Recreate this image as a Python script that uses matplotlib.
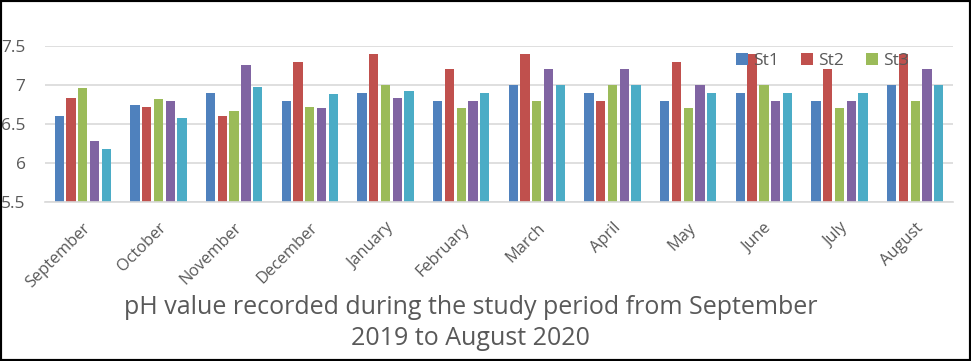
import numpy as np
import matplotlib
matplotlib.use('Agg')
import matplotlib.pyplot as plt
from matplotlib.patches import Rectangle

plt.rcParams['font.family'] = ['Open Sans', 'DejaVu Sans']

# data
months = ['September', 'October', 'November', 'December', 'January', 'February',
          'March', 'April', 'May', 'June', 'July', 'August']
st1 = [6.60, 6.74, 6.90, 6.80, 6.90, 6.80, 7.00, 6.90, 6.80, 6.90, 6.80, 7.00]
st2 = [6.83, 6.72, 6.60, 7.30, 7.40, 7.20, 7.40, 6.80, 7.30, 7.40, 7.20, 7.40]
st3 = [6.96, 6.82, 6.67, 6.72, 7.00, 6.70, 6.80, 7.00, 6.70, 7.00, 6.70, 6.80]
st4 = [6.28, 6.79, 7.26, 6.70, 6.83, 6.80, 7.20, 7.20, 7.00, 6.80, 6.80, 7.20]
st5 = [6.18, 6.58, 6.97, 6.88, 6.92, 6.90, 7.00, 7.00, 6.90, 6.90, 6.90, 7.00]
series = [('St1', st1), ('St2', st2), ('St3', st3), ('St4', st4), ('St5', st5)]
colors = ['#4F81BD', '#C0504D', '#9BBB59', '#8064A2', '#4BACC6']
yticks = [5.5, 6, 6.5, 7, 7.5]
yticklabels = ['5.5', '6', '6.5', '7', '7.5']

text_col = '#595959'

fig = plt.figure(figsize=(9.71, 3.61), dpi=100)
ax = fig.add_axes([0.0463, 0.4404, 0.9352, 0.4322])

x = np.arange(len(months))
step = 0.155
width = 0.123
bars = []
for i, (name, vals) in enumerate(series):
    b = ax.bar(x + (i - 2) * step, np.array(vals) - 5.5, width, bottom=5.5,
               color=colors[i], label=name, zorder=2)
    bars.append(b)

ax.set_xlim(-0.5, len(months) - 0.5)
ax.set_ylim(5.5, 7.5)
ax.set_yticks(yticks)
ax.set_yticklabels(yticklabels)
ax.set_xticks(x)
ax.set_xticklabels(months, rotation=45, ha='right', rotation_mode='anchor')
ax.yaxis.grid(True, color='#D9D9D9', linewidth=1.2, zorder=0)
ax.set_axisbelow(True)
for s in ['top', 'right', 'left']:
    ax.spines[s].set_visible(False)
ax.spines['bottom'].set_color('#D9D9D9')
ax.spines['bottom'].set_linewidth(1.2)
ax.tick_params(axis='both', length=0, colors=text_col)
ax.tick_params(axis='y', labelsize=12.5, pad=14)
ax.tick_params(axis='x', labelsize=11.8, pad=13)

# only the first three entries are visible in the original
leg = ax.legend(handles=bars[:3], loc='center', bbox_to_anchor=(0.856, 0.905),
                ncol=3, frameon=False, fontsize=12.5, handlelength=0.7,
                handleheight=0.7, handletextpad=0.3, columnspacing=1.25,
                labelcolor=text_col, borderpad=0)

fig.text(0.485, 0.106, 'pH value recorded during the study period from September\n2019 to August 2020',
         ha='center', va='center', fontsize=18, color=text_col, linespacing=1.3)

fig.patches.append(Rectangle((0, 0), 1, 1, transform=fig.transFigure, fill=False,
                             edgecolor='black', linewidth=3, zorder=10))

fig.savefig('out.png', dpi=100)
